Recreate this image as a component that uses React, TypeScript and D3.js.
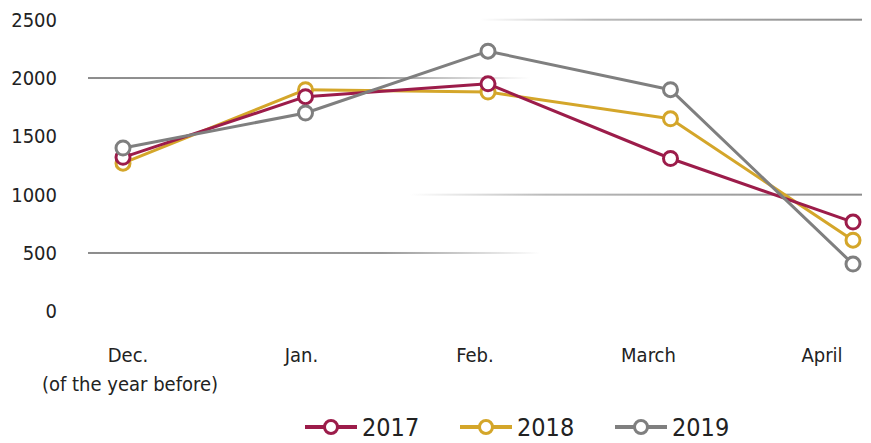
import React from "react";
import * as d3 from "d3";

const categories = ["Dec.", "Jan.", "Feb.", "March", "April"];
const categorySub = ["(of the year before)", "", "", "", ""];
const years = ["2017", "2018", "2019"];
const values2017 = [1320, 1840, 1950, 1310, 765];
const values2018 = [1270, 1900, 1880, 1650, 610];
const values2019 = [1400, 1700, 2230, 1900, 405];
const yTicks = [0, 500, 1000, 1500, 2000, 2500];
const colors = ["#9c1c4a", "#d4a62a", "#7f7f7f"];

const W = 871;
const H = 443;
const FONT = "'DejaVu Sans', sans-serif";

export default function App() {
  const x = d3.scalePoint<string>().domain(categories).range([123, 853]);
  const xLabel = d3.scalePoint<string>().domain(categories).range([128, 822]);
  const y = d3.scaleLinear().domain([0, 2500]).range([311.3, 19.7]);
  const series = [values2017, values2018, values2019];
  const line = d3
    .line<number>()
    .x((_, i) => x(categories[i]) as number)
    .y((d) => y(d));
  const drawOrder = [1, 0, 2];
  const gridSpecs: Record<number, { x1: number; x2: number; grad: string }> = {
    2000: { x1: 88, x2: 530, grad: "fadeOut" },
    500: { x1: 88, x2: 540, grad: "fadeOut" },
    2500: { x1: 480, x2: 862, grad: "fadeIn" },
    1000: { x1: 410, x2: 862, grad: "fadeIn" },
  };
  const legendX = [305, 460, 615];
  const legendY = 427;
  const textStyle = { fontStretch: "condensed" as const };

  return (
    <svg
      width={W}
      height={H}
      style={{ position: "absolute", left: 0, top: 0, background: "#fff" }}
      fontFamily={FONT}
    >
      <defs>
        <linearGradient id="fadeOut" x1="0" x2="1" y1="0" y2="0">
          <stop offset="0" stopColor="#8c8c8c" stopOpacity="1" />
          <stop offset="0.65" stopColor="#8c8c8c" stopOpacity="0.9" />
          <stop offset="1" stopColor="#8c8c8c" stopOpacity="0" />
        </linearGradient>
        <linearGradient id="fadeIn" x1="0" x2="1" y1="0" y2="0">
          <stop offset="0" stopColor="#8c8c8c" stopOpacity="0" />
          <stop offset="0.3" stopColor="#8c8c8c" stopOpacity="0.6" />
          <stop offset="1" stopColor="#8c8c8c" stopOpacity="1" />
        </linearGradient>
      </defs>
      {yTicks.map((t) => {
        const g = gridSpecs[t];
        return g ? (
          <rect
            key={"g" + t}
            x={g.x1}
            y={y(t) - 1}
            width={g.x2 - g.x1}
            height={2}
            fill={`url(#${g.grad})`}
          />
        ) : null;
      })}
      {yTicks.map((t) => (
        <text
          key={"t" + t}
          x={57}
          y={y(t)}
          dy="0.35em"
          textAnchor="end"
          fontSize={20}
          fill="#222"
          style={textStyle}
        >
          {t}
        </text>
      ))}
      {categories.map((c, i) => (
        <g key={c}>
          <text
            x={xLabel(c) as number}
            y={355}
            dy="0.35em"
            textAnchor="middle"
            fontSize={20}
            fill="#222"
            style={textStyle}
          >
            {c}
          </text>
          {categorySub[i] && (
            <text
              x={(xLabel(c) as number) + 2}
              y={384}
              dy="0.35em"
              textAnchor="middle"
              fontSize={20}
              fill="#222"
              style={textStyle}
            >
              {categorySub[i]}
            </text>
          )}
        </g>
      ))}
      {drawOrder.map((si) => (
        <g key={"s" + si}>
          <path
            d={line(series[si]) as string}
            fill="none"
            stroke={colors[si]}
            strokeWidth={3}
            strokeLinejoin="round"
          />
          {series[si].map((v, i) => (
            <circle
              key={i}
              cx={x(categories[i]) as number}
              cy={y(v)}
              r={7}
              fill="#fff"
              stroke={colors[si]}
              strokeWidth={3}
            />
          ))}
        </g>
      ))}
      {years.map((yr, i) => (
        <g key={yr} transform={`translate(${legendX[i]},${legendY})`}>
          <line x1={0} x2={52} y1={0} y2={0} stroke={colors[i]} strokeWidth={4} />
          <circle cx={26} cy={0} r={6.5} fill="#fff" stroke={colors[i]} strokeWidth={3} />
          <text x={57} y={0} dy="0.35em" fontSize={25} fill="#222" style={textStyle}>
            {yr}
          </text>
        </g>
      ))}
    </svg>
  );
}
